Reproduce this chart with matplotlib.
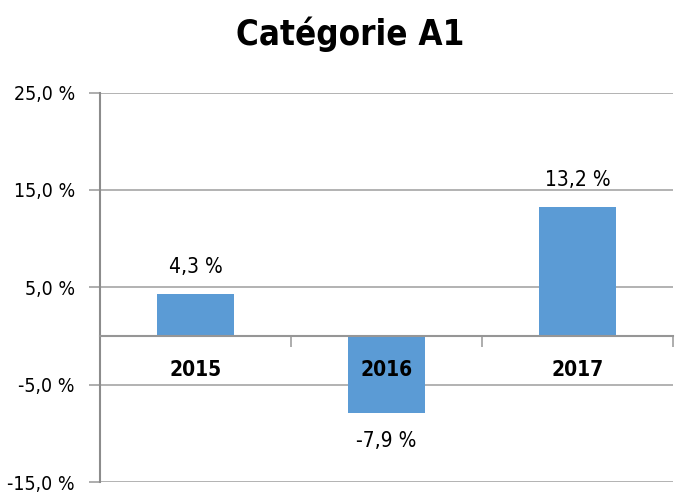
import matplotlib
matplotlib.use("Agg")
import matplotlib.pyplot as plt
import matplotlib.transforms as mtransforms

# data
years = ["2015", "2016", "2017"]
values = [4.3, -7.9, 13.2]
y_ticks = [-15, -5, 5, 15, 25]

#%%

# narrow look, closest to the original condensed face
plt.rcParams['font.family'] = ['DejaVu Sans']
plt.rcParams['font.stretch'] = 'condensed'

fig = plt.figure(figsize=(6.77, 4.95), dpi=100)
ax = fig.add_axes([100/677, 13/495, 573/677, 389.5/495])

x = range(len(years))
ax.bar(x, values, width=0.4, color="#5B9BD5", zorder=2)

ax.set_xlim(-0.5, len(years) - 0.5)
ax.set_ylim(-15, 25)
ax.set_yticks(y_ticks)
ax.set_yticklabels([f"{v:.1f} %".replace(".", ",") for v in y_ticks], fontsize=14)
ax.tick_params(axis='y', length=8, color="#A0A0A0", width=1.2, pad=10)
ax.yaxis.grid(True, color="#A6A6A6", linewidth=1.2, zorder=0)

# category axis sitting on zero
ax.spines['bottom'].set_position(('data', 0))
ax.spines['bottom'].set_color("#969696")
ax.spines['bottom'].set_linewidth(1.5)
ax.spines['bottom'].set_zorder(3)
ax.set_xticks([i + 0.5 for i in range(-1, len(years))])
ax.set_xticklabels([])
ax.tick_params(axis='x', direction='out', length=8, color="#A0A0A0", width=1.2)

ax.spines['left'].set_color("#8C8C8C")
ax.spines['left'].set_linewidth(1.5)
ax.spines['top'].set_visible(False)
ax.spines['right'].set_visible(False)

# category labels just under the zero line
for i, yr in enumerate(years):
    off = mtransforms.offset_copy(ax.transData, fig=fig, x=0, y=-34, units='dots')
    ax.text(i, 0, yr, transform=off, ha='center', va='center',
            fontsize=15, fontweight='bold', zorder=4)

# value labels
for i, v in enumerate(values):
    dy = 27 if v >= 0 else -28
    off = mtransforms.offset_copy(ax.transData, fig=fig, x=0, y=dy, units='dots')
    ax.text(i, v, f"{v:.1f} %".replace(".", ","), transform=off,
            ha='center', va='center', fontsize=15)

fig.text(350/677, 1 - 34/495, "Catégorie A1", ha='center', va='center',
         fontsize=25, fontweight='bold')

fig.savefig("out.png", dpi=100)
